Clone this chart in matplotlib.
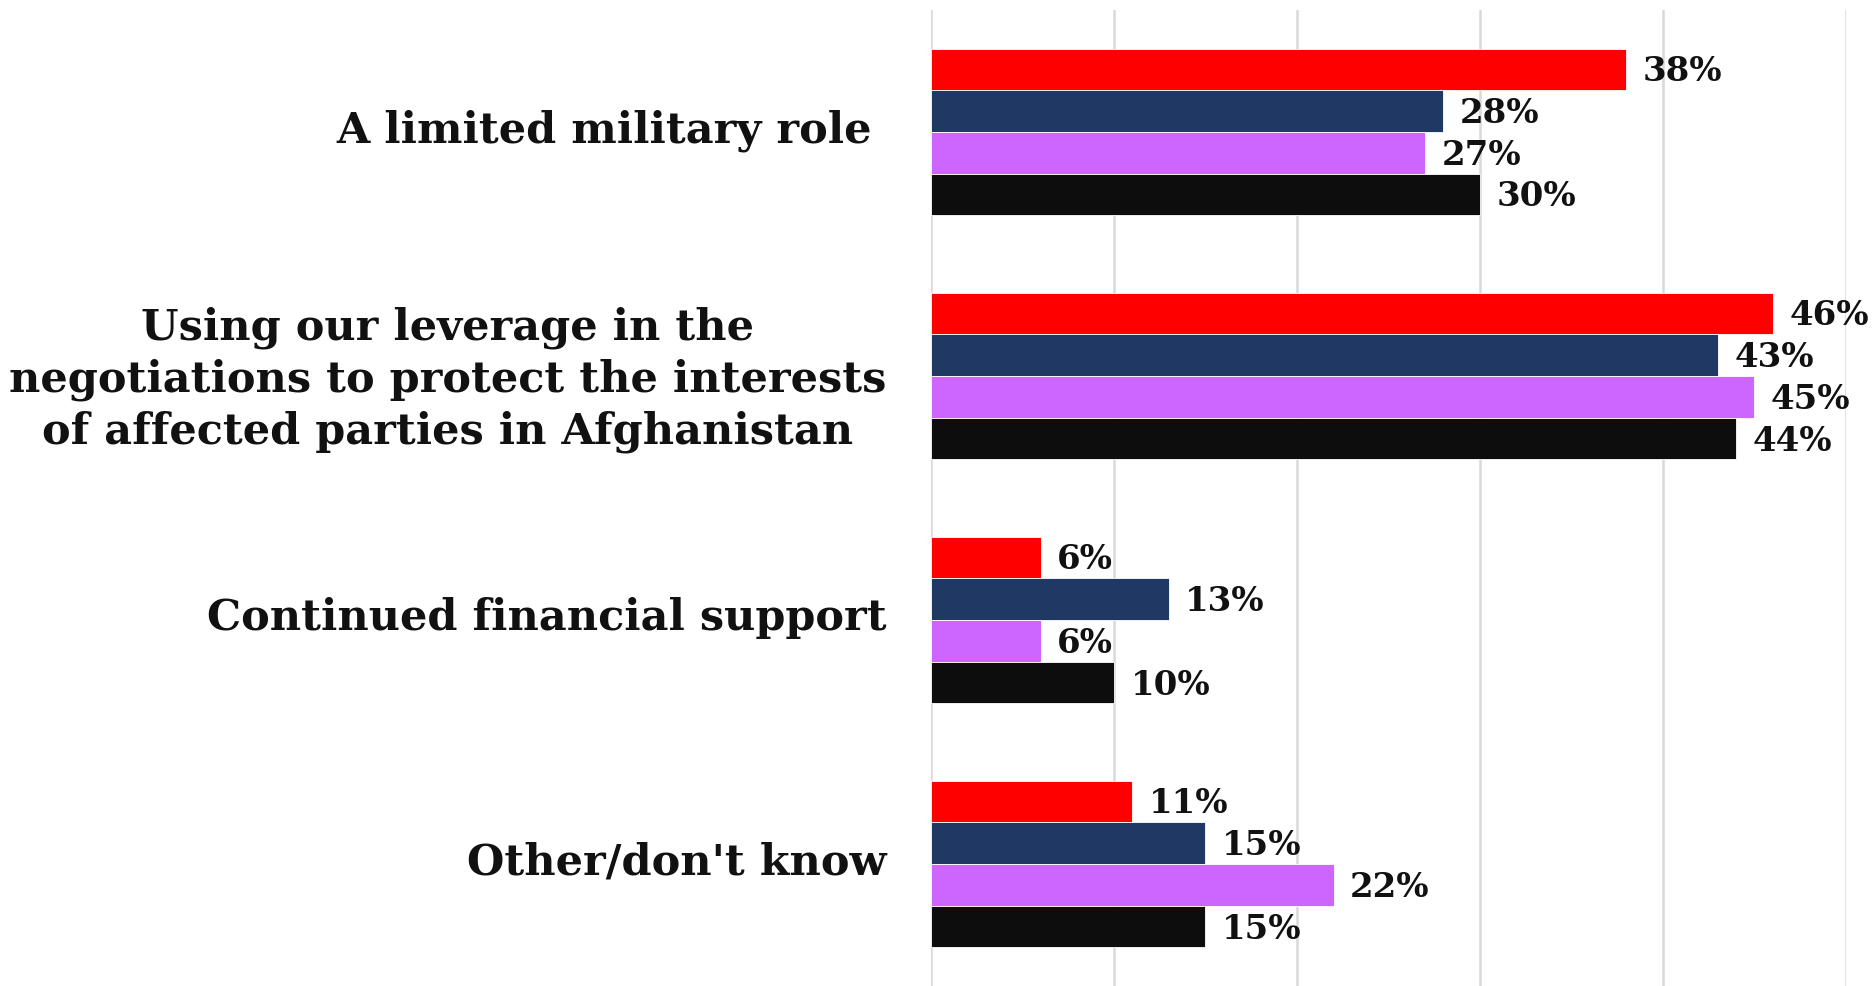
import numpy as np
import matplotlib.pyplot as plt
from matplotlib.transforms import ScaledTranslation

categories = ["A limited military role ",
              "Using our leverage in the\nnegotiations to protect the interests\nof affected parties in Afghanistan",
              "Continued financial support",
              "Other/don't know"]
red_vals = [38, 46, 6, 11]
navy_vals = [28, 43, 13, 15]
purple_vals = [27, 45, 6, 22]
black_vals = [30, 44, 10, 15]

series = [red_vals, navy_vals, purple_vals, black_vals]
colors = ['#FF0000', '#203864', '#CC66FF', '#0D0D0D']

fig = plt.figure(figsize=(18.72, 9.86), dpi=100)
ax = fig.add_axes([0.4973, 0.0, 0.9861 - 0.4973, 0.9899])

y = np.arange(len(categories))
h = 0.171
for i, (vals, c) in enumerate(zip(series, colors)):
    pos = y - 1.5 * h + i * h
    ax.barh(pos, vals, height=h, color=c, edgecolor='white', linewidth=0.6, zorder=3)
    for yy, v in zip(pos, vals):
        ax.text(v + 0.9, yy + 0.01, f"{v}%", va='center', ha='left',
                fontsize=24.5, fontweight='bold', family='DejaVu Serif', color='#111111')

ax.set_xlim(0, 50)
ax.set_ylim(3.5, -0.5)
ax.set_xticks(np.arange(0, 51, 10))
ax.xaxis.grid(True, color='#D9D9D9', linewidth=1.8, zorder=0)
ax.set_xticklabels([])
ax.tick_params(length=0)
for s in ax.spines.values():
    s.set_visible(False)

ax.set_yticks(y)
ax.set_yticklabels(categories, fontsize=31, fontweight='bold', family='DejaVu Serif',
                   color='#111111', multialignment='center', linespacing=1.3)
ax.tick_params(axis='y', pad=32)
# nudge category labels up a little
shift = ScaledTranslation(0, 6 / 100, fig.dpi_scale_trans)
for lab in ax.get_yticklabels():
    lab.set_transform(lab.get_transform() + shift)

fig.savefig('out.png', dpi=100)
